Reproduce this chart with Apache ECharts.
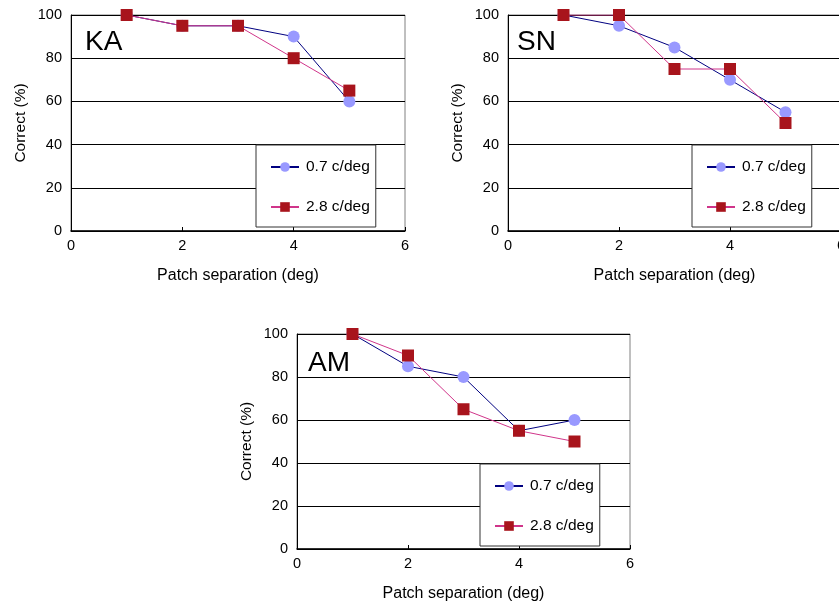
<!DOCTYPE html>
<html>
<head>
<meta charset="utf-8">
<script src="https://cdn.jsdelivr.net/npm/echarts@6/dist/echarts.min.js"></script>
<style>
html,body{margin:0;padding:0;background:#fff;}
#chart{width:839px;height:604px;}
</style>
</head>
<body>
<div id="chart"></div>
<script>
// ---- data ----
const separations = [1, 2, 3, 4, 5];
const seriesNames = ['0.7 c/deg', '2.8 c/deg'];
const panelLabels = ['KA', 'SN', 'AM'];
const kaLow  = [100, 95, 95, 90, 60];
const kaHigh = [100, 95, 95, 80, 65];
const snLow  = [100, 95, 85, 70, 55];
const snHigh = [100, 100, 75, 75, 50];
const amLow  = [100, 85, 80, 55, 60];
const amHigh = [100, 90, 65, 55, 50];
const xAxisName = 'Patch separation (deg)';
const yAxisName = 'Correct (%)';

const panelData = [[kaLow, kaHigh], [snLow, snHigh], [amLow, amHigh]];

// ---- layout ----
const FONT = 'Liberation Sans, Arial, sans-serif';
const grids = [
  {left: 71, top: 15, width: 334, height: 216},
  {left: 508, top: 15, width: 333, height: 216},
  {left: 297, top: 334, width: 333, height: 215}
];
const legendPos = [
  {left: 256, top: 145},
  {left: 692, top: 145},
  {left: 480, top: 464}
];
const labelPos = [
  {left: 85, top: 28},
  {left: 517, top: 28},
  {left: 308, top: 349}
];

const lowStyle = {
  color: '#000080', symbol: 'circle', markerColor: '#9999ff'
};
const highStyle = {
  color: '#d0358a', symbol: 'rect', markerColor: '#a8141c'
};

function pairs(vals) {
  return separations.map((x, i) => [x, vals[i]]);
}

const option = {
  animation: false,
  backgroundColor: '#ffffff',
  textStyle: {fontFamily: FONT},
  title: panelLabels.map((t, i) => ({
    text: t, left: labelPos[i].left, top: labelPos[i].top, padding: 0,
    textStyle: {fontSize: 28, fontWeight: 'normal', color: '#000', fontFamily: FONT}
  })),
  grid: grids.map(g => Object.assign({show: true, borderColor: '#808080', borderWidth: 1,
    backgroundColor: 'transparent', outerBoundsMode: 'none', containLabel: false}, g)),
  xAxis: grids.map((g, i) => ({
    type: 'value', gridIndex: i, min: 0, max: 6, interval: 2,
    name: xAxisName, nameLocation: 'middle', nameGap: 37,
    nameTextStyle: {fontSize: 16, color: '#000', fontFamily: FONT},
    axisLine: {show: true, onZero: false, lineStyle: {color: '#000', width: 1.5}},
    axisTick: {show: true, inside: true, length: 4, lineStyle: {color: '#000'}},
    axisLabel: {fontSize: 14.5, color: '#000', margin: 7, fontFamily: FONT, hideOverlap: false},
    splitLine: {show: false}
  })),
  yAxis: grids.map((g, i) => ({
    type: 'value', gridIndex: i, min: 0, max: 100, interval: 20,
    name: yAxisName, nameLocation: 'middle', nameGap: 42, nameRotate: 90,
    nameTextStyle: {fontSize: 15.5, color: '#000', fontFamily: FONT},
    axisLine: {show: true, lineStyle: {color: '#000', width: 1}},
    axisTick: {show: false},
    axisLabel: {fontSize: 14.5, color: '#000', margin: 9, fontFamily: FONT},
    splitLine: {show: true, lineStyle: {color: '#000', width: 1}}
  })),
  legend: legendPos.map(p => ({
    left: p.left, top: p.top, orient: 'vertical',
    data: seriesNames,
    itemWidth: 28, itemHeight: 12, itemGap: 24,
    padding: [14, 6, 12, 14],
    borderColor: '#333', borderWidth: 1, backgroundColor: '#fff',
    textStyle: {fontSize: 15.5, color: '#000', fontFamily: FONT, padding: [0, 0, 0, 2]},
    selectedMode: false
  })),
  series: []
};

panelData.forEach((pd, i) => {
  [lowStyle, highStyle].forEach((st, k) => {
    option.series.push({
      type: 'line', name: seriesNames[k],
      xAxisIndex: i, yAxisIndex: i,
      data: pairs(pd[k]),
      symbol: st.symbol, symbolSize: 12, showSymbol: true,
      lineStyle: {color: st.color, width: 1},
      itemStyle: {color: st.markerColor},
      z: 2 + k
    });
  });
});

const chart = echarts.init(document.getElementById('chart'), null, {renderer: 'canvas'});
chart.setOption(option);
</script>
</body>
</html>
